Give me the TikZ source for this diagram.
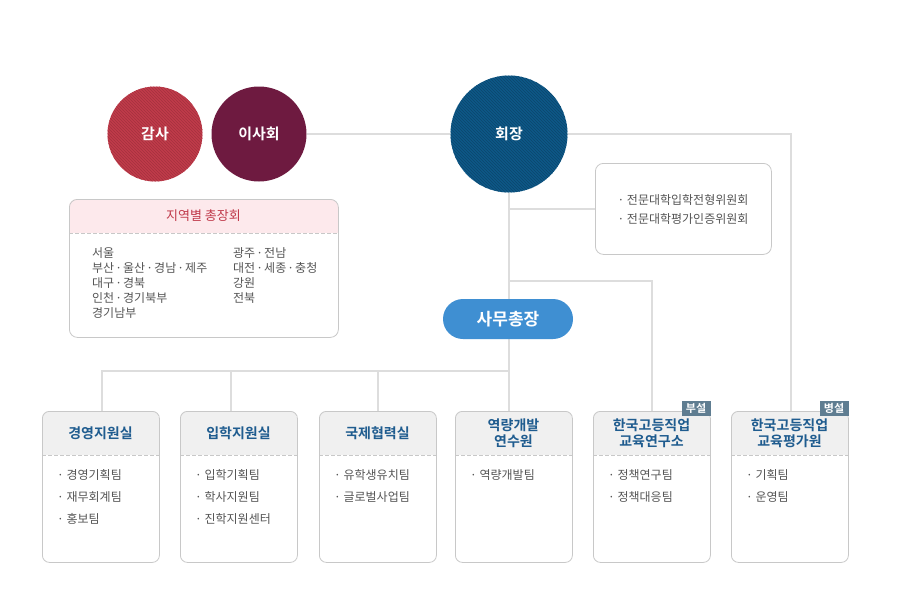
\documentclass[tikz,border=0pt]{standalone}
\usepackage{fontspec}
\setmainfont{Noto Sans CJK KR}[BoldFont={Noto Sans CJK KR Bold}]
\usetikzlibrary{calc,patterns}
\definecolor{cred}{HTML}{C13B4A}
\definecolor{cmaroon}{HTML}{6E1A40}
\definecolor{cblue}{HTML}{0E5888}
\definecolor{cpill}{HTML}{3F8FD2}
\definecolor{cline}{HTML}{DDDDDD}
\definecolor{cborder}{HTML}{C8C8C8}
\definecolor{chead}{HTML}{F0F0F0}
\definecolor{ctitle}{HTML}{1F5C8F}
\definecolor{ctag}{HTML}{5F7D91}
\definecolor{cpink}{HTML}{FDE9EC}
\definecolor{cpinktxt}{HTML}{C0394A}
\definecolor{citem}{HTML}{555555}
\newcommand{\md}{\kern1.1pt·\kern1.1pt}
\tikzset{
  conn/.style={draw=cline, line width=2pt},
  bigcircle/.style={circle, inner sep=0pt, text=white, font=\bfseries\fontsize{15}{18}\selectfont},
  orgframe/.style={draw=cborder, line width=0.8pt, rounded corners=7pt, minimum width=117pt, minimum height=151pt, inner sep=0pt, anchor=north west},
  boxhead/.style={text=ctitle, font=\bfseries\fontsize{14}{16}\selectfont, align=center, inner sep=0pt},
  itemlist/.style={text=citem, font=\fontsize{12}{22}\selectfont, align=left, inner sep=0pt, anchor=north west},
  dashln/.style={draw=cborder, dashed, dash pattern=on 4pt off 2pt, line width=0.8pt},
  tagbox/.style={fill=ctag, text=white, font=\bfseries\fontsize{11}{12}\selectfont, minimum width=29pt, minimum height=15pt, inner sep=0pt, anchor=south east},
}
\newcommand{\orgbox}[4]{%
  \begin{scope}
    \clip[rounded corners=7pt] (#2,411) rectangle ++(117,151);
    \fill[chead] (#2,411) rectangle ++(117,44);
  \end{scope}
  \node[orgframe] (#1) at (#2,411) {};
  \draw[dashln] (#2,455) -- ++(117,0);
  \node[boxhead] (#1h) at (#2+58.5,433) {#3};
  \node[itemlist] (#1i) at (#2+15,469) {#4};
}
\begin{document}
\begin{tikzpicture}[x=1pt,y=-1pt]
\useasboundingbox (0,0) rectangle (900,605);
\fill[white] (0,0) rectangle (900,605);

% coordinates for junctions
\coordinate (bus) at (509,371);
\coordinate (br5) at (509,281);

% circles
\node[bigcircle, fill=cred, minimum size=95pt] (gamsa) at (155,134) {};
\fill[pattern=north west lines, pattern color=cred!85!black] (gamsa.center) circle (47.5pt);
\node[bigcircle] (gamsat) at (gamsa.center) {감사};
\node[bigcircle, fill=cmaroon, minimum size=95pt] (isahoe) at (259,134) {이사회};
\node[bigcircle, fill=cblue, minimum size=117pt] (hoejang) at (509,134) {};
\fill[pattern=north west lines, pattern color=cblue!80!black] (hoejang.center) circle (58.5pt);
\node[bigcircle] (hoejangt) at (hoejang.center) {회장};

% boxes (bottom)
\orgbox{b1}{42}{경영지원실}{· 경영기획팀\\· 재무회계팀\\· 홍보팀}
\orgbox{b2}{180}{입학지원실}{· 입학기획팀\\· 학사지원팀\\· 진학지원센터}
\orgbox{b3}{319}{국제협력실}{· 유학생유치팀\\· 글로벌사업팀}
\orgbox{b4}{455}{역량개발\\연수원}{· 역량개발팀}
\orgbox{b5}{593}{한국고등직업\\교육연구소}{· 정책연구팀\\· 정책대응팀}
\orgbox{b6}{731}{한국고등직업\\교육평가원}{· 기획팀\\· 운영팀}

% committee box
\node[draw=cborder, fill=white, line width=0.8pt, rounded corners=8pt, minimum width=176pt, minimum height=91pt, anchor=north west, inner sep=0pt] (comm) at (595,163) {};
\node[text=citem, font=\fontsize{12}{19}\selectfont, align=left, inner sep=0pt] (commtxt) at (683,209) {· 전문대학입학전형위원회\\· 전문대학평가인증위원회};

% connectors
\draw[conn] (isahoe.east) -- (hoejang.west);
\draw[conn] (hoejang.east) -| ([xshift=1.5pt]b6.north);
\draw[conn] (hoejang.south) -- (bus);
\draw[conn] (hoejang.south |- comm.west) -- (comm.west);
\draw[conn] (br5) -| (b5.north);
\draw[conn] (bus) -| ([xshift=1.5pt]b1.north);
\draw[conn] (bus) -| ([xshift=-7.5pt]b2.north);
\draw[conn] (bus) -| (b3.north);
\draw[conn] (bus) -- (bus |- b4.north);

% pill
\node[fill=cpill, text=white, rounded corners=20pt, minimum width=130pt, minimum height=40pt, inner sep=0pt, font=\bfseries\fontsize{17}{20}\selectfont] (samu) at (508,319) {사무총장};

% tags
\node[tagbox] (tag5) at ([yshift=-5pt]b5.north east) {부설};
\node[tagbox] (tag6) at ([yshift=-5pt]b6.north east) {병설};

% regional box
\begin{scope}
  \clip[rounded corners=8pt] (69,199) rectangle (338,337);
  \fill[cpink] (69,199) rectangle (338,233);
\end{scope}
\node[draw=cborder, line width=0.8pt, rounded corners=8pt, minimum width=269pt, minimum height=138pt, anchor=north west, inner sep=0pt] (region) at (69,199) {};
\draw[dashln] (69,233) -- (338,233);
\node[text=cpinktxt, font=\fontsize{13}{15}\selectfont, inner sep=0pt] (regtitle) at (203.5,216) {지역별 총장회};
\node[text=citem, font=\fontsize{12}{15}\selectfont, align=left, inner sep=0pt, anchor=north west] (regl) at (92,247) {서울\\부산\md 울산\md 경남\md 제주\\대구\md 경북\\인천\md 경기북부\\경기남부};
\node[text=citem, font=\fontsize{12}{15}\selectfont, align=left, inner sep=0pt, anchor=north west] (regr) at (233,247) {광주\md 전남\\대전\md 세종\md 충청\\강원\\전북};
\end{tikzpicture}
\end{document}
